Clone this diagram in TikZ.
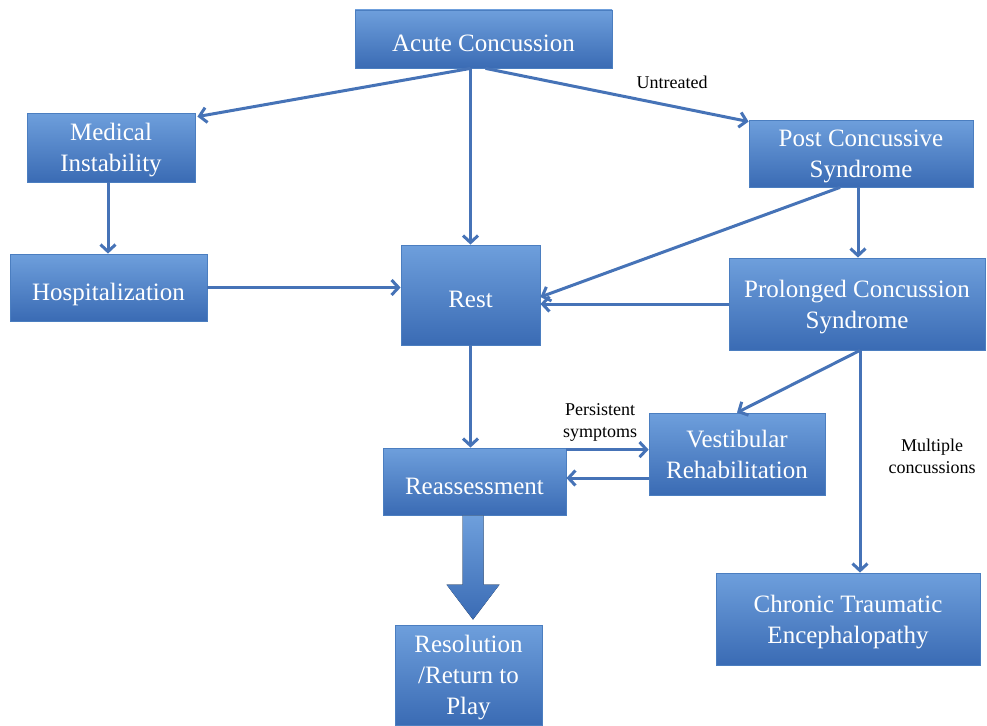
\documentclass[tikz,border=0pt]{standalone}
\usepackage{fontspec}
\setmainfont{Liberation Serif}
\usetikzlibrary{calc,arrows.meta}
\definecolor{boxtop}{HTML}{6E9FDC}
\definecolor{boxbot}{HTML}{3A6BB4}
\definecolor{boxline}{HTML}{4B7EC0}
\definecolor{flow}{HTML}{4673B7}
\begin{document}
\begin{tikzpicture}[x=1pt,y=-1pt,
  box/.style={draw=boxline,line width=0.8pt,top color=boxtop,bottom color=boxbot,text=white,align=center,font=\fontsize{25}{31}\selectfont,inner sep=0pt,execute at begin node={\rule{0pt}{25pt}},text depth=-5pt},
  lbl/.style={align=center,font=\fontsize{18}{22}\selectfont},
  flw/.style={draw=flow,line width=3pt,-{Straight Barb[length=7pt,width=15pt,line width=3pt]}}]
\useasboundingbox (0,0) rectangle (987,725);
\node[box,minimum width=257pt,minimum height=58pt] (acute) at (483.5,39) {Acute Concussion};
\node[box,minimum width=168pt,minimum height=69pt] (medical) at (111,147.5) {Medical\\Instability};
\node[box,minimum width=224pt,minimum height=67pt] (post) at (861,153.5) {Post Concussive\\Syndrome};
\node[box,minimum width=197pt,minimum height=67pt] (hosp) at (108.5,287.5) {Hospitalization};
\node[box,minimum width=139pt,minimum height=100pt] (rest) at (470.5,295) {Rest};
\node[box,minimum width=256pt,minimum height=92pt] (prolonged) at (857,304) {Prolonged Concussion\\Syndrome};
\node[box,minimum width=176pt,minimum height=82pt] (vest) at (737,454) {Vestibular\\Rehabilitation};
\node[box,minimum width=183pt,minimum height=67pt] (reass) at (474.5,481.5) {Reassessment};
\node[box,minimum width=147pt,minimum height=100pt] (resol) at (468.5,675) {Resolution\\/Return to\\Play};
\node[box,minimum width=264pt,minimum height=92pt] (cte) at (848,619) {Chronic Traumatic\\Encephalopathy};
\node[lbl] (untreated) at (672,82) {Untreated};
\node[lbl] (persist) at (600,422) {Persistent\\symptoms};
\node[lbl] (multiple) at (932,456) {Multiple\\concussions};
\coordinate (acl) at ([xshift=-13pt]acute.south);
\coordinate (acr) at ([xshift=2pt]acute.south);
\coordinate (pb) at ([xshift=3pt]prolonged.south);
\coordinate (ra) at ([yshift=-2pt]reass.north east);
\coordinate (vb) at ([yshift=-24pt]vest.west);
\draw[flw] (acl) -- ([xshift=2pt,yshift=-4pt]medical.north east);
\draw[flw] (acl) -- (acl |- rest.north);
\draw[flw] (acr) -- ([yshift=-2pt]post.north west);
\draw[flw] ([xshift=-3pt]medical.south) -- ([xshift=-3pt]medical.south |- hosp.north);
\draw[flw] (hosp.east) -- (rest.west |- hosp.east);
\draw[flw] ([xshift=-21pt]post.south) -- ([yshift=-2pt]rest.east);
\draw[flw] ([xshift=-3pt]post.south) -- ([xshift=-3pt]post.south |- prolonged.north);
\draw[flw] (prolonged.west) -- (rest.east |- prolonged.west);
\draw[flw] (pb) -- (vest.north);
\draw[flw] (pb) -- (pb |- cte.north);
\draw[flw] (rest.south) -- (rest.south |- reass.north);
\draw[flw] (ra) -- (vest.west |- ra);
\draw[flw] (vb) -- (reass.east |- vb);
% block arrow to resolution
\fill[top color=boxtop,bottom color=boxbot] let \p1=(reass.south), \p2=(resol.north) in
  (\x1-12pt,\y1) -- (\x1+9pt,\y1) -- (\x1+9pt,\y2+40pt) -- (\x1+25pt,\y2+40pt)
  -- (\x1-1.5pt,\y2+5pt) -- (\x1-28pt,\y2+40pt) -- (\x1-12pt,\y2+40pt) -- cycle;
\end{tikzpicture}
\end{document}
